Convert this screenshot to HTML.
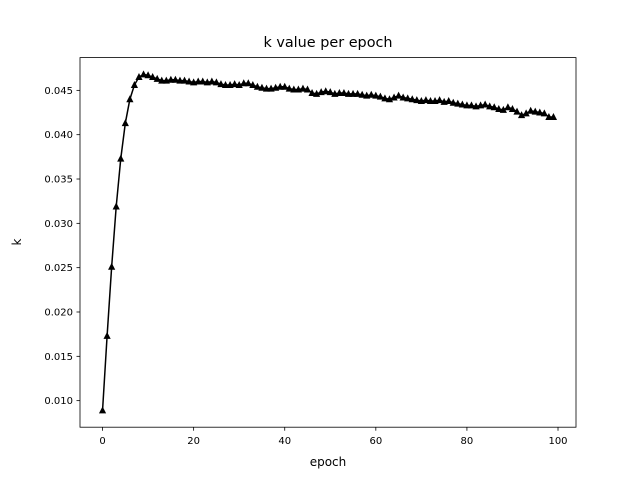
<!DOCTYPE html>
<html><head><meta charset="utf-8"><style>
body{margin:0;background:#fff;}
svg{display:block;font-family:"DejaVu Sans","Liberation Sans",sans-serif;}
</style></head><body>
<svg id="chart" width="640" height="480" xmlns="http://www.w3.org/2000/svg">
<rect width="640" height="480" fill="#fff"/>
<text x="328" y="47" font-size="14.4" text-anchor="middle">k value per epoch</text>
<g id="plot"></g>
<rect x="80" y="57.6" width="496" height="369.6" fill="none" stroke="#000" stroke-width="0.8"/>
<text x="328" y="466" font-size="12" text-anchor="middle">epoch</text>
<text transform="translate(21,242) rotate(-90)" font-size="12" text-anchor="middle">k</text>
</svg>
<script>
const kValues=[0.0089,0.0173,0.0251,0.0319,0.0373,0.0413,0.0440,0.0456,0.0465,0.0468,
0.0467,0.0465,0.0463,0.0461,0.0461,0.0462,0.0462,0.0461,0.0461,0.0460,
0.0459,0.0460,0.0460,0.0459,0.0460,0.0459,0.0457,0.0456,0.0456,0.0457,
0.0456,0.0458,0.0458,0.0456,0.0454,0.0453,0.0452,0.0452,0.0453,0.0454,
0.0454,0.0452,0.0451,0.0451,0.0452,0.0451,0.0447,0.0446,0.0448,0.0449,
0.0448,0.0446,0.0447,0.0447,0.0446,0.0446,0.0446,0.0445,0.0444,0.0445,
0.0444,0.0443,0.0441,0.0440,0.0442,0.0444,0.0442,0.0441,0.0440,0.0439,
0.0438,0.0439,0.0438,0.0438,0.0439,0.0437,0.0438,0.0436,0.0435,0.0434,
0.0433,0.0433,0.0432,0.0433,0.0434,0.0432,0.0431,0.0429,0.0428,0.0431,
0.0429,0.0426,0.0422,0.0424,0.0427,0.0426,0.0425,0.0424,0.0420,0.0420];
const xTicks=[0,20,40,60,80,100];
const yTicks=[0.010,0.015,0.020,0.025,0.030,0.035,0.040,0.045];
const L=80,R=576,T=57.6,B=427.2;
const xmin=-4.95,xmax=103.95;
const dmin=Math.min(...kValues),dmax=Math.max(...kValues),pad=(dmax-dmin)*0.05;
const ymin=dmin-pad,ymax=dmax+pad;
const sx=v=>L+(v-xmin)/(xmax-xmin)*(R-L);
const sy=v=>B-(v-ymin)/(ymax-ymin)*(B-T);
const NS="http://www.w3.org/2000/svg";
const g=document.getElementById('plot');
function mk(t,a){const e=document.createElementNS(NS,t);for(const k in a)e.setAttribute(k,a[k]);g.appendChild(e);return e;}
xTicks.forEach(v=>{
 const l=mk('line',{x1:sx(v),x2:sx(v),y1:B,y2:B+3.5,stroke:'#000','stroke-width':0.8});
 
 
 const t=mk('text',{x:sx(v),y:B+17,'font-size':10,'text-anchor':'middle'});t.textContent=v;
 
 
});
yTicks.forEach(v=>{
 const l=mk('line',{x1:L-3.5,x2:L,y1:sy(v),y2:sy(v),stroke:'#000','stroke-width':0.8});
 
 
 const t=mk('text',{x:L-7,y:sy(v)+3.5,'font-size':10,'text-anchor':'end'});t.textContent=v.toFixed(3);
 
 
});
const line=mk('polyline',{points:kValues.map((v,i)=>sx(i)+','+sy(v)).join(' '),fill:'none',stroke:'#000','stroke-width':1.5});


kValues.forEach((v,i)=>{
 const x=sx(i),y=sy(v);
 const p=mk('polygon',{points:`${x},${y-4} ${x-3.6},${y+3} ${x+3.6},${y+3}`,fill:'#000'});
 
 
});
</script>
</body></html>
